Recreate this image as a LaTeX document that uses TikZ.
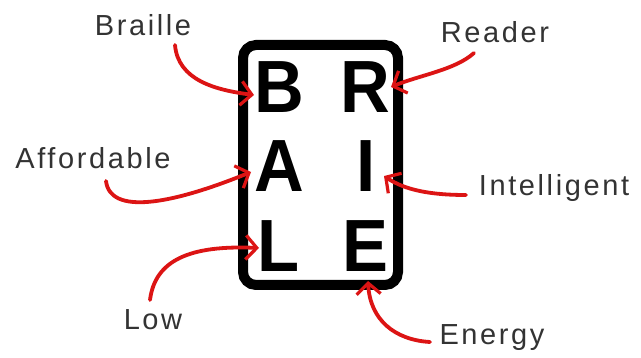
\documentclass[tikz,border=0pt]{standalone}
\usepackage{fontspec}
\setmainfont{Liberation Sans}
\newfontfamily\lblfont[LetterSpace=9]{Liberation Sans}
\usetikzlibrary{arrows.meta}
\definecolor{arrowred}{RGB}{220,20,20}
\tikzset{
  letter/.style={font=\fontsize{74}{74}\selectfont\bfseries, inner sep=0pt, anchor=base, xscale=0.93},
  lbl/.style={font=\lblfont\fontsize{29}{29}\selectfont, text=black!80, inner sep=1pt},
  redarrow/.style={draw=arrowred, line width=3.8pt, line cap=round,
    -{Straight Barb[length=11pt,width=24pt,line width=3.2pt]}},
}
\begin{document}
\begin{tikzpicture}[x=1pt,y=-1pt]
\useasboundingbox (0,0) rectangle (641,358);
\fill[white] (0,0) rectangle (641,358);
% frame
\draw[line width=10pt, rounded corners=13pt] (243,45) rectangle (398,285);
\node[letter] (B) at (279,113) {B};
\node[letter] (R) at (365,113) {R};
\node[letter] (A) at (279,192) {A};
\node[letter] (I) at (366,192) {I};
\node[letter] (L) at (279,272) {L};
\node[letter] (E) at (365,272) {E};
% labels
\node[lbl] (braille) at (143,25) {Braille};
\node[lbl] (reader) at (495,32) {Reader};
\node[lbl] (afford) at (93,158) {Affordable};
\node[lbl] (intel) at (554,188) {Intelligent};
\node[lbl] (low) at (153,320) {Low};
\node[lbl] (energy) at (492,338) {Energy};
% arrow ends
\coordinate (bs) at (175,45);
\coordinate (be) at (254,95);
\coordinate (rs) at (474,53);
\coordinate (re) at (391,87);
\coordinate (as) at (106,181);
\coordinate (ae) at (251,172);
\coordinate (is) at (466,195);
\coordinate (ie) at (384,176);
\coordinate (ls) at (150,300);
\coordinate (le) at (259,248);
\coordinate (es) at (430,342);
\coordinate (ee) at (368,281);
\draw[redarrow] (bs) .. controls (178,80) and (215,90) .. (be);
\draw[redarrow] (rs) .. controls (455,70) and (420,75) .. (re);
\draw[redarrow] (as) .. controls (110,215) and (170,205) .. (ae);
\draw[redarrow] (is) .. controls (430,195) and (405,190) .. (ie);
\draw[redarrow] (ls) .. controls (155,260) and (190,245) .. (le);
\draw[redarrow] (es) .. controls (395,340) and (370,320) .. (ee);
\end{tikzpicture}
\end{document}
